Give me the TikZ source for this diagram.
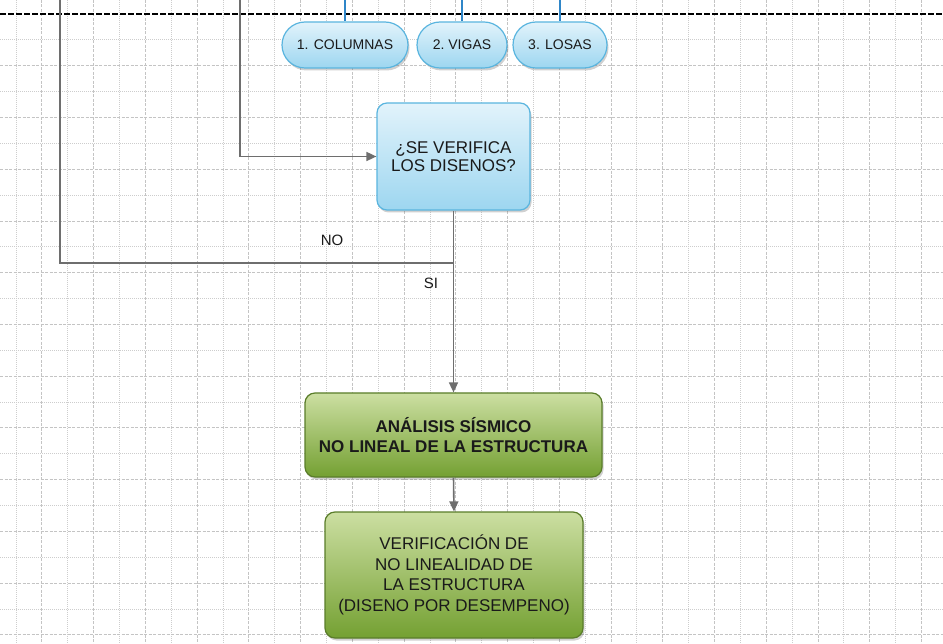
\documentclass[tikz,border=0pt]{standalone}
\usepackage{fontspec}
\setmainfont{Liberation Sans}
\usetikzlibrary{positioning,shadows,arrows.meta}
\definecolor{gridmaj}{HTML}{C4C4C4}
\definecolor{gridmin}{HTML}{CDCDCD}
\definecolor{wire}{HTML}{6E6E6E}
\definecolor{tick}{HTML}{2F86C8}
\definecolor{bluetop}{HTML}{E2F3FB}
\definecolor{bluebot}{HTML}{9DD6F0}
\definecolor{blueedge}{HTML}{5AB5DF}
\definecolor{greentop}{HTML}{CCDFA2}
\definecolor{greenbot}{HTML}{74A032}
\definecolor{greenedge}{HTML}{5A7D2A}
\definecolor{ink}{HTML}{1A1A1A}
\tikzset{%
  majgrid/.style={draw=gridmaj,line width=0.9pt,dash pattern=on 3pt off 1.5pt},
  mingrid/.style={draw=gridmin,line width=0.8pt,dash pattern=on 1pt off 1pt},
  wireline/.style={draw=wire,line width=1.6pt},
  ptr/.style={wireline,-{Triangle[length=10pt,width=9pt]}},
  tickline/.style={draw=tick,line width=1.3pt},
  softshadow/.style={drop shadow={shadow xshift=1.5pt,shadow yshift=-2.5pt,opacity=0.3,fill=black!60}},
  pill/.style={%
    draw=blueedge,line width=1.2pt,top color=bluetop,bottom color=bluebot,
    rounded corners=23pt,minimum height=46pt,text=ink,
    font=\fontsize{14}{16}\selectfont,softshadow
  },
  askbox/.style={%
    draw=blueedge,line width=1.2pt,top color=bluetop,bottom color=bluebot,
    rounded corners=10pt,minimum width=153pt,minimum height=107pt,text=ink,
    align=center,font=\fontsize{17}{18.5}\selectfont,softshadow
  },
  stepbox/.style={%
    draw=greenedge,line width=1.2pt,top color=greentop,bottom color=greenbot,
    rounded corners=10pt,text=ink,align=center,softshadow
  },
  tag/.style={text=ink,font=\fontsize{15}{17}\selectfont}
}

\begin{document}
\begin{tikzpicture}[x=1pt,y=-1pt]
    \useasboundingbox (0,0) rectangle (943,644);
    \fill[white] (0,0) rectangle (943,644);

    % grid
    \foreach \k in {0,...,36}{
      \pgfmathsetmacro{\gx}{16+25.87*\k}
      \ifodd\k \draw[majgrid] (\gx,0) -- (\gx,644);
      \else \draw[mingrid] (\gx,0) -- (\gx,644); \fi
    }
    \foreach \k in {1,...,24}{
      \pgfmathsetmacro{\gy}{14+25.87*\k}
      \ifodd\k \draw[mingrid] (0,\gy) -- (943,\gy);
      \else \draw[majgrid] (0,\gy) -- (943,\gy); \fi
    }
    \draw[black,line width=1.3pt,dash pattern=on 6pt off 2pt] (0,14) -- (943,14);

    % top row
    \node[pill,minimum width=126pt] (col) at (345,45) {1. COLUMNAS};
    \node[pill,minimum width=90pt] (vig) at (462,45) {2.\ VIGAS};
    \node[pill,minimum width=94pt] (los) at (560,45) {3. LOSAS};
    \coordinate (colin) at (345,0);
    \coordinate (vigin) at (462,0);
    \coordinate (losin) at (560,0);
    \draw[tickline] (colin) -- (col.north);
    \draw[tickline] (vigin) -- (vig.north);
    \draw[tickline] (losin) -- (los.north);

    % check
    \node[askbox] (chk) at (453.5,156.5) {¿SE VERIFICA\\LOS DISENOS?};
    \node[stepbox,minimum width=297pt,minimum height=84pt,
          font=\fontsize{17}{19.5}\selectfont\bfseries] (ana) at (453.5,435)
          {ANÁLISIS SÍSMICO\\NO LINEAL DE LA ESTRUCTURA};
    \node[stepbox,minimum width=258pt,minimum height=126pt,
          font=\fontsize{17}{20.7}\selectfont] (ver) at (454,575)
          {VERIFICACIÓN DE\\NO LINEALIDAD DE\\LA ESTRUCTURA\\(DISENO POR DESEMPENO)};

    \coordinate (loopa) at (60,0);
    \coordinate (loopb) at (240,0);
    \coordinate (join) at (453.5,263);

    \draw[ptr] (loopb) |- (chk.west);
    \draw[wireline] (loopa) |- (join);
    \draw[ptr] (chk.south) -- (ana.north);
    \draw[ptr] (ana.south) -- (ver.north);

    \node[tag] (no) at (332,240) {NO};
    \node[tag] (si) at (431,283) {SI};
\end{tikzpicture}
\end{document}
